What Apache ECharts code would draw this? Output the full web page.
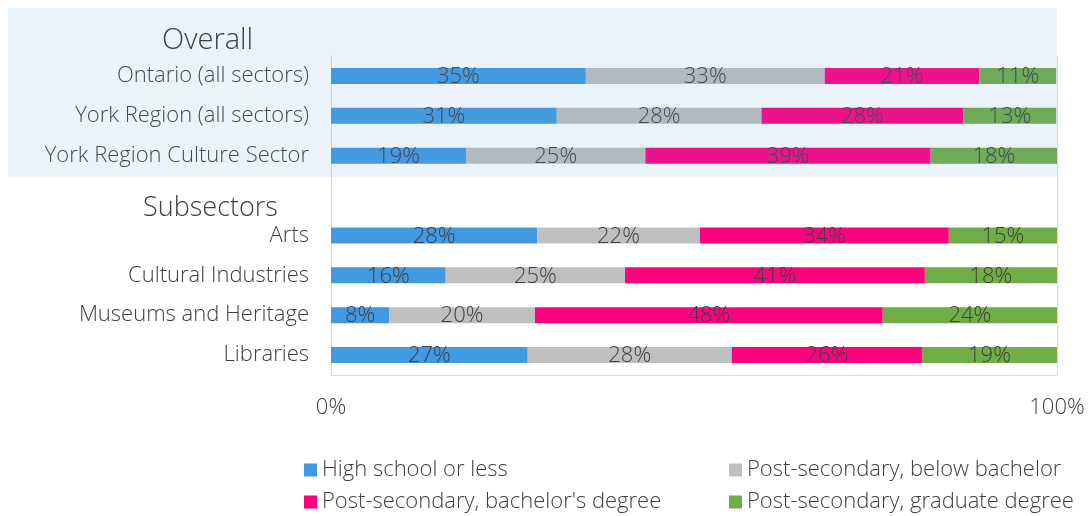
<!DOCTYPE html>
<html>
<head>
<meta charset="utf-8">
<script src="https://cdn.jsdelivr.net/npm/echarts@6/dist/echarts.min.js"></script>
<style>
  html, body { margin: 0; padding: 0; background: #fff; }
  #main { width: 1090px; height: 516px; }
</style>
</head>
<body>
<div id="main"></div>
<script>
const categories = ['Ontario (all sectors)', 'York Region (all sectors)', 'York Region Culture Sector', '',
  'Arts', 'Cultural Industries', 'Museums and Heritage', 'Libraries'];
const seriesNames = ['High school or less', 'Post-secondary, below bachelor',
  "Post-secondary, bachelor's degree", 'Post-secondary, graduate degree'];
const highSchool = [35.1, 31.1, 18.6, null, 28.4, 15.8, 8.0, 27.1];
const belowBachelor = [32.9, 28.2, 24.7, null, 22.4, 24.7, 20.1, 28.1];
const bachelor = [21.3, 27.8, 39.3, null, 34.3, 41.3, 47.9, 26.2];
const graduate = [10.6, 12.8, 17.5, null, 14.9, 18.2, 24.0, 18.6];
const xTicks = [0, 100];
const colors = ['#4199E1', '#BFBFBF', '#FF0080', '#70AD47'];

const font = "'Open Sans', sans-serif";
const textColor = '#404040';

const chart = echarts.init(document.getElementById('main'));

const values = [highSchool, belowBachelor, bachelor, graduate];
const series = seriesNames.map((name, i) => ({
  name: name,
  type: 'bar',
  stack: 'total',
  barWidth: 16,
  data: values[i],
  itemStyle: { color: colors[i] },
  label: {
    show: true,
    position: 'inside',
    offset: [0, 1],
    color: textColor,
    fontFamily: font,
    fontWeight: 300,
    fontSize: 22,
    formatter: p => Math.round(p.value) + '%'
  }
}));

const legendText = { color: textColor, fontFamily: font, fontWeight: 300, fontSize: 22, lineHeight: 26 };

chart.setOption({
  animation: false,
  grid: { left: 331, right: 33, top: 56, bottom: 141 },
  xAxis: {
    type: 'value',
    min: xTicks[0],
    max: xTicks[1],
    interval: 100,
    axisLine: { show: true, lineStyle: { color: '#D9D9D9' } },
    axisTick: { show: false },
    splitLine: { show: false },
    axisLabel: {
      margin: 22,
      color: textColor,
      fontFamily: font,
      fontWeight: 300,
      fontSize: 22,
      formatter: '{value}%'
    }
  },
  yAxis: [{
    type: 'category',
    data: categories,
    inverse: true,
    axisLine: { show: true, lineStyle: { color: '#D9D9D9' } },
    axisTick: { show: false },
    axisLabel: {
      margin: 22,
      color: textColor,
      fontFamily: font,
      fontWeight: 300,
      fontSize: 22
    }
  }, {
    type: 'category',
    data: categories,
    inverse: true,
    position: 'right',
    axisLine: { show: true, lineStyle: { color: '#D9D9D9' } },
    axisTick: { show: false },
    axisLabel: { show: false }
  }],
  legend: [{
    orient: 'vertical',
    left: 304,
    top: 457,
    padding: 0,
    itemWidth: 13,
    itemHeight: 13,
    itemGap: 6,
    icon: 'rect',
    data: [seriesNames[0], seriesNames[2]],
    textStyle: legendText
  }, {
    orient: 'vertical',
    left: 729,
    top: 457,
    padding: 0,
    itemWidth: 13,
    itemHeight: 13,
    itemGap: 6,
    icon: 'rect',
    data: [seriesNames[1], seriesNames[3]],
    textStyle: legendText
  }],
  graphic: [{
    type: 'rect',
    z: 100,
    silent: true,
    shape: { x: 8, y: 8, width: 1049, height: 169 },
    style: { fill: 'rgba(91,155,213,0.12)' }
  }, {
    type: 'text',
    z: 101,
    left: 162,
    top: 26,
    style: { text: 'Overall', fill: textColor, font: '300 29px ' + font }
  }, {
    type: 'text',
    z: 101,
    left: 143,
    top: 195,
    style: { text: 'Subsectors', fill: textColor, font: '300 27px ' + font }
  }],
  series: series
});
</script>
</body>
</html>
